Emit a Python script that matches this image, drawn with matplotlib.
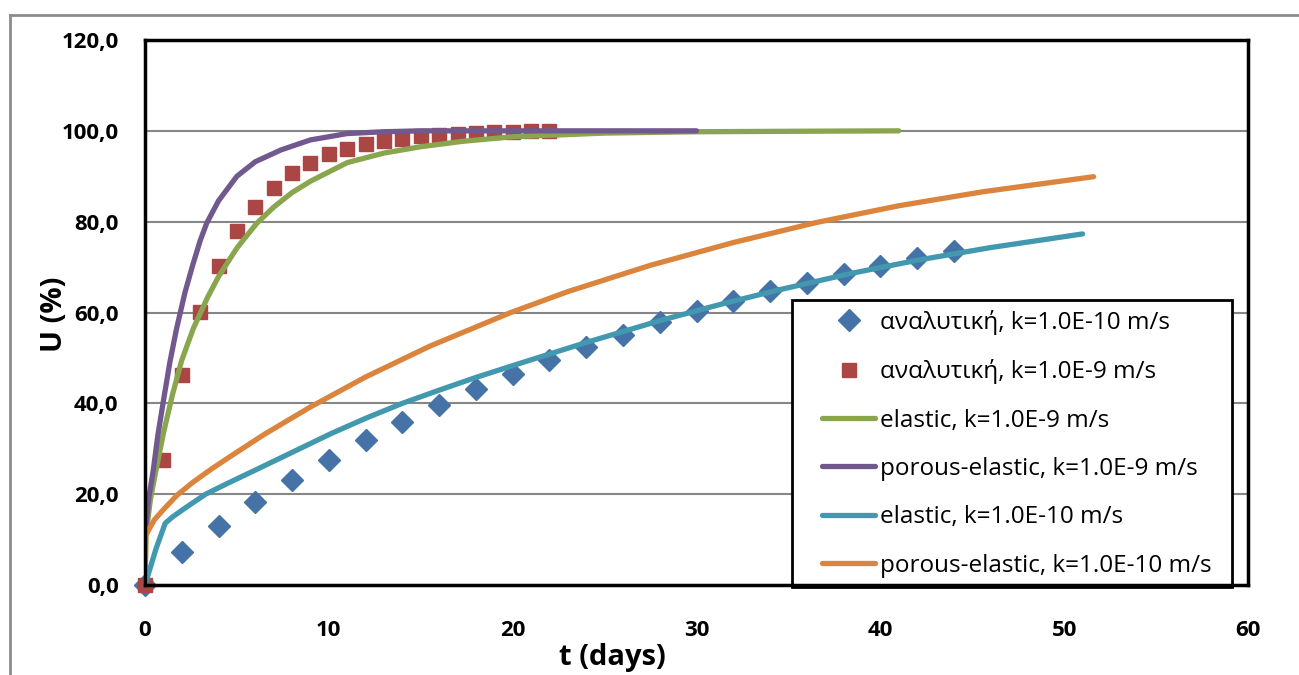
import matplotlib
matplotlib.use("Agg")
import matplotlib.pyplot as plt
from matplotlib.lines import Line2D
from matplotlib.patches import Rectangle

plt.rcParams["font.family"] = ["Open Sans", "DejaVu Sans"]

# --- analytical solutions (markers) ---
t_an10 = [0, 2, 4, 6, 8, 10, 12, 14, 16, 18, 20, 22, 24, 26, 28, 30, 32, 34, 36, 38, 40, 42, 44]
u_an10 = [0, 7.2, 13.0, 18.3, 23.2, 27.6, 32.0, 35.9, 39.6, 43.1, 46.4, 49.5, 52.4, 55.1, 57.8,
          60.3, 62.6, 64.7, 66.6, 68.5, 70.3, 72.0, 73.6]

t_an9 = [0, 1, 2, 3, 4, 5, 6, 7, 8, 9, 10, 11, 12, 13, 14, 15, 16, 17, 18, 19, 20, 21, 22]
u_an9 = [0, 27.5, 46.3, 60.1, 70.2, 77.9, 83.3, 87.5, 90.7, 93.0, 94.8, 96.1, 97.1, 97.8, 98.3,
         98.8, 99.1, 99.4, 99.5, 99.7, 99.8, 99.9, 99.9]

# --- numerical curves ---
t_el9 = [0, 0.05, 0.3, 0.6, 1.0, 1.5, 2.0, 2.63, 3.4, 4.0, 5.0, 6.07, 7.0, 8.0, 9.0, 11.0,
         13.0, 15.0, 17.3, 20.0, 25.0, 30.0, 35.0, 41.0]
u_el9 = [0, 11, 19, 25.3, 33.4, 42.0, 49.5, 56.5, 63.3, 67.9, 74.2, 79.6, 83.2, 86.4, 88.9, 93.0,
         95.1, 96.5, 97.7, 98.7, 99.5, 99.8, 99.9, 100]

t_pe9 = [0, 0.02, 0.2, 0.45, 0.7, 1.0, 1.35, 1.72, 2.18, 2.6, 3.0, 3.36, 4.0, 5.0, 6.0, 7.4,
         9.0, 11.0, 13.0, 15.0, 20.0, 25.0, 30.0]
u_pe9 = [0, 11.5, 19, 25.3, 33, 40.5, 49, 56.5, 64.5, 70.5, 75.8, 79.7, 84.6, 90, 93.2, 95.8,
         98, 99.4, 99.8, 100, 100, 100, 100]

t_el10 = [0, 0.6, 1.1, 1.5, 2.2, 3.3, 4.5, 6.0, 8.0, 10.1, 12.0, 14.0, 16.0, 18.0, 20.0, 24.0,
          28.0, 31.5, 34.5, 38.4, 42.0, 46.0, 51.0]
u_el10 = [0, 8, 13.6, 15.0, 17.0, 20.0, 22.4, 25.3, 29.2, 33.3, 36.7, 40.0, 42.9, 45.7, 48.3,
          53.4, 58.2, 62.0, 65.0, 68.6, 71.5, 74.3, 77.3]

t_pe10 = [0, 0.05, 0.5, 1.0, 1.75, 2.6, 3.6, 4.6, 6.5, 9.0, 12.0, 15.5, 19.9, 23.0, 27.5, 32.0,
          36.5, 41.0, 45.6, 51.6]
u_pe10 = [0, 11, 14.3, 16.6, 19.8, 22.6, 25.5, 28.2, 33.2, 39.2, 45.8, 52.6, 60.0, 64.6, 70.4,
          75.4, 79.8, 83.5, 86.6, 89.9]

x_ticks = [0, 10, 20, 30, 40, 50, 60]
y_ticks = [0, 20, 40, 60, 80, 100, 120]
y_tick_labels = ["0,0", "20,0", "40,0", "60,0", "80,0", "100,0", "120,0"]

W, H = 1299, 675
fig = plt.figure(figsize=(W / 100, H / 100), dpi=100)
ax = fig.add_axes([145 / W, 90 / H, 1103 / W, 545 / H])

lw = 3.8
ax.plot(t_an10, u_an10, ls="none", marker="D", ms=11, color="#4572A7", clip_on=False,
        label="αναλυτική, k=1.0E-10 m/s")
ax.plot(t_an9, u_an9, ls="none", marker="s", ms=10.5, color="#AA4643", clip_on=False,
        label="αναλυτική, k=1.0E-9 m/s")
ax.plot(t_el9, u_el9, lw=lw, color="#89A54E", solid_capstyle="round",
        label="elastic, k=1.0E-9 m/s")
ax.plot(t_pe9, u_pe9, lw=lw, color="#71588F", solid_capstyle="round",
        label="porous-elastic, k=1.0E-9 m/s")
ax.plot(t_el10, u_el10, lw=lw, color="#4198AF", solid_capstyle="round",
        label="elastic, k=1.0E-10 m/s")
ax.plot(t_pe10, u_pe10, lw=lw, color="#DB843D", solid_capstyle="round",
        label="porous-elastic, k=1.0E-10 m/s")

ax.set_xlim(0, 60)
ax.set_ylim(0, 120)
ax.set_xticks(x_ticks)
ax.set_yticks(y_ticks)
ax.set_yticklabels(y_tick_labels)
ax.tick_params(length=0, labelsize=16)
ax.tick_params(axis="x", pad=25)
ax.tick_params(axis="y", pad=19)
for lab in ax.get_xticklabels() + ax.get_yticklabels():
    lab.set_fontweight("bold")

ax.yaxis.grid(True, color="#868686", lw=1.5)
ax.set_axisbelow(True)
for sp in ax.spines.values():
    sp.set_color("black")
    sp.set_linewidth(2.5)
    sp.set_zorder(6)

fig.text(612 / W, 1 - 657 / H, "t (days)", ha="center", va="center",
         fontsize=21, fontweight="bold")
fig.text(55 / W, 1 - 314 / H, "U (%)", ha="center", va="center",
         fontsize=21, fontweight="bold", rotation=90)

# legend box drawn by hand so it can be wider than its text, like the original
box = Rectangle((792 / W, 1 - 587 / H), 440 / W, 287 / H, transform=fig.transFigure,
                facecolor="white", edgecolor="black", lw=2, zorder=4.5, clip_on=False)
ax.add_patch(box)
leg = ax.legend(loc="upper left", bbox_to_anchor=(822 / W, 1 - 310 / H),
                bbox_transform=fig.transFigure, fontsize=17.5, frameon=False,
                handlelength=2.2, handletextpad=0.2, labelspacing=1.0,
                borderpad=0, borderaxespad=0)
leg.set_zorder(5)

# outer chart border
fig.add_artist(Line2D([10 / W, 10 / W], [0, 1 - 15 / H], color="#8c8c8c", lw=2))
fig.add_artist(Line2D([10 / W, 1], [1 - 15 / H, 1 - 15 / H], color="#8c8c8c", lw=2))

fig.savefig("out.png", dpi=100)
